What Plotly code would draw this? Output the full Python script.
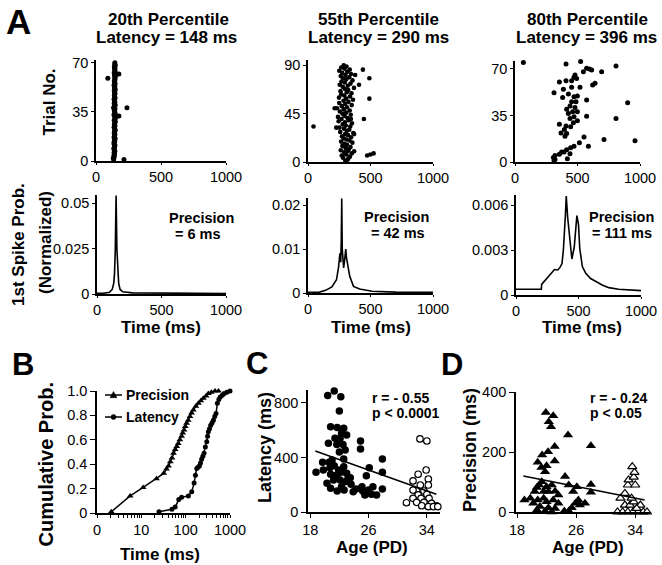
import plotly.graph_objects as go

W, H = 662, 565
FONT = "Liberation Sans, Arial, sans-serif"

# ---------------- DATA ----------------
# Panel A rasters: (trial number, first-spike latency in ms)
R1_TRIAL = [1, 2, 3, 4, 5, 6, 7, 8, 9, 10, 11, 12, 13, 14, 15, 16, 17, 18, 19, 20,
            21, 22, 23, 24, 25, 26, 27, 28, 29, 30, 31, 32, 33, 34, 35, 36, 37, 38, 39, 40,
            41, 42, 43, 44, 45, 46, 47, 48, 49, 50, 51, 52, 53, 54, 55, 56, 57, 58, 59, 60,
            61, 62, 63, 64, 65, 66, 67, 68, 69, 70, 59, 62, 38, 32, 1]
R1_MS = [136, 133, 140, 138, 142, 139, 145, 141, 137, 143, 146, 140, 138, 144, 141, 147, 139, 143, 145, 140,
         142, 148, 144, 139, 146, 141, 143, 149, 140, 145, 152, 142, 138, 147, 144, 141, 146, 135, 143, 148,
         140, 145, 142, 139, 147, 143, 141, 146, 144, 140, 148, 142, 145, 139, 147, 143, 141, 146, 144, 149,
         142, 145, 140, 147, 143, 146, 141, 148, 144, 145, 91, 176, 238, 176, 215]

R2_TRIAL = [1, 2, 3, 4, 5, 6, 7, 8, 9, 10, 11, 12, 13, 14, 15, 16, 17, 18, 19, 20,
            21, 22, 23, 24, 25, 26, 27, 28, 29, 30, 31, 32, 33, 34, 35, 36, 37, 38, 39, 40,
            41, 42, 43, 44, 45, 46, 47, 48, 49, 50, 51, 52, 53, 54, 55, 56, 57, 58, 59, 60,
            61, 62, 63, 64, 65, 66, 67, 68, 69, 70, 71, 72, 73, 74, 75, 76, 77, 78, 79, 80,
            81, 82, 83, 84, 85, 86, 87, 88, 89, 90,
            33, 86, 78, 59, 40, 72, 81, 6, 7, 8, 50, 32, 40, 26, 10]
R2_MS = [298, 315, 322, 280, 335, 270, 305, 350, 290, 318, 262, 328, 300, 340, 275, 312, 293, 355, 265, 332,
         308, 285, 345, 272, 320, 297, 362, 258, 310, 330, 288, 252, 338, 302, 278, 352, 295, 245, 326, 268,
         316, 240, 292, 342, 276, 306, 255, 334, 286, 232, 312, 270, 350, 298, 250, 324, 284, 360, 305, 248,
         336, 290, 266, 348, 310, 260, 322, 296, 368, 278, 318, 254, 340, 294, 268, 356, 306, 282, 330, 262,
         300, 344, 274, 314, 250, 334, 292, 266, 308, 286,
         44, 439, 491, 491, 447, 408, 377, 473, 499, 525, 213, 226, 343, 369, 369]

R3_MS = [67, 419, 408, 525, 573, 613, 595, 547, 693, 808, 480, 472, 493, 453, 408, 355, 640, 621, 520, 453,
         387, 312, 427, 381, 472, 499, 573, 453, 488, 901, 440, 480, 413, 461, 499, 427, 573, 472, 808, 440,
         499, 467, 355, 408, 445, 395, 368, 413, 400, 552, 712, 960, 515, 472, 587, 445, 413, 373, 355, 440,
         320, 307, 320, 312, 419, 392]
R3_TRIAL = [74.8, 76.9, 73.8, 75.6, 70.6, 69.3, 70, 68, 68, 72.3, 65.5, 63.8, 62.8, 61.2, 61.2, 60.2, 59.2, 58, 56.2, 56.2,
            54.7, 52.2, 51.2, 48.6, 49.1, 49.6, 46.6, 45.4, 45.4, 44.6, 42.1, 41.1, 39.6, 37.8, 37.8, 36.5, 34.5, 34, 32.8, 32.8,
            31, 29.5, 28.5, 27, 26.5, 24.4, 21.9, 21.4, 19.4, 18.9, 16.9, 15.9, 14.4, 11.8, 11.8, 10.8, 9.3, 7.6, 5.8, 6.3,
            4.8, 3.3, 1.8, 0.8, 2.5, 7.6]

# Panel A histograms: first-spike probability (normalized)
P1_MS = [0, 50, 97, 118, 130, 136, 142, 146, 148, 150, 154, 161, 168, 179, 200, 276, 500, 750, 1000]
P1_P = [0.0004, 0.0004, 0.0009, 0.0025, 0.006, 0.0115, 0.025, 0.045, 0.0542, 0.045, 0.025, 0.0115,
        0.006, 0.0025, 0.0012, 0.0006, 0.0004, 0.0003, 0.0003]
P2_MS = [0, 92, 141, 191, 228, 245, 255, 262, 266, 270, 274, 280, 285, 295, 302, 308, 319, 334, 364, 413,
         512, 700, 1000]
P2_P = [0.00015, 0.0002, 0.0006, 0.0014, 0.003, 0.006, 0.009, 0.007, 0.012, 0.0215, 0.01, 0.0065, 0.0057,
        0.008, 0.0100, 0.008, 0.0057, 0.0038, 0.0015, 0.0009, 0.0004, 0.0002, 0.00015]
P3_MS = [0, 203, 205, 242, 281, 308, 334, 352, 368, 379, 395, 402, 413, 431, 447, 466, 479, 487, 500, 510,
         531, 558, 597, 637, 689, 742, 821, 1000]
P3_P = [0.00038, 0.00038, 0.00071, 0.00104, 0.00144, 0.0017, 0.00167, 0.00184, 0.0021, 0.003, 0.0053,
        0.0066, 0.0052, 0.0037, 0.0024, 0.0032, 0.0049, 0.0053, 0.0047, 0.0031, 0.0019, 0.00144, 0.0011,
        0.0009, 0.00067, 0.00049, 0.00038, 0.00029]

# Panel B: cumulative distributions
B_PREC_MS = [2.1, 5.6, 11, 22, 32, 37, 41, 45, 49, 53, 58, 63, 68, 74, 81, 86, 92, 98, 105, 114, 125, 136,
             149, 170, 194, 220, 251, 290, 325, 380, 460, 550]
B_PREC_P = [0.01, 0.14, 0.21, 0.28, 0.325, 0.36, 0.385, 0.42, 0.45, 0.49, 0.52, 0.545, 0.57, 0.60, 0.63,
            0.655, 0.68, 0.71, 0.735, 0.76, 0.79, 0.82, 0.845, 0.875, 0.9, 0.92, 0.94, 0.96, 0.98, 0.99, 1.0, 1.0]
B_LAT_MS = [25, 49, 58, 70, 81, 115, 137, 155, 166, 178, 190, 204, 216, 229, 244, 260, 278, 299, 312, 325,
            345, 367, 395, 422, 452, 484, 519, 560, 602, 670, 740, 850, 1000]
B_LAT_P = [0.01, 0.03, 0.05, 0.11, 0.13, 0.14, 0.175, 0.245, 0.31, 0.365, 0.375, 0.385, 0.41, 0.44, 0.465,
           0.49, 0.54, 0.585, 0.63, 0.665, 0.69, 0.72, 0.74, 0.76, 0.79, 0.815, 0.9, 0.93, 0.95, 0.965, 0.98,
           0.99, 1.0]

# Panel C: latency vs age
C_FILL_AGE = [20.4, 21.3, 22.2, 22.0, 20.8, 21.7, 22.6, 22.3, 21.4, 23.0, 20.5, 21.65, 22.5, 22.1, 24.9,
              24.9, 22.6, 20.6, 19.7, 18.8, 19.8, 20.7, 21.3, 21.9, 22.6, 20.8, 21.65, 22.2, 23.0, 23.5,
              21.2, 22.1, 22.9, 20.3, 26.1, 27.9, 27.9, 25.7, 20.8, 21.7, 22.65, 23.6, 24.3, 25.1, 25.2,
              25.75, 26.6, 26.4, 27.9, 22.3, 23.9, 25.5, 26.0, 27.1, 22.8, 21.0, 22.0, 23.2]
C_FILL_LAT = [854, 888, 846, 741, 626, 619, 614, 578, 541, 565, 504, 496, 496, 541, 521,
              462, 389, 365, 365, 291, 308, 325, 340, 308, 332, 277, 272, 291, 284, 252,
              235, 235, 223, 210, 325, 389, 291, 266, 174, 154, 161, 203, 169, 186, 154,
              137, 186, 130, 169, 186, 149, 125, 161, 125, 455, 382, 440, 250]
C_OPEN_AGE = [33.05, 34.0, 33.9, 32.8, 34.2, 32.1, 33.1, 34.2, 32.6, 33.6, 32.8, 34.0, 32.1, 33.2, 34.3,
              32.6, 33.6, 34.65, 35.3, 32.1, 33.3, 34.2, 31.2, 34.9, 35.5]
C_OPEN_LAT = [536, 521, 308, 277, 242, 228, 198, 198, 154, 154, 125, 130, 100, 100, 100,
              71, 71, 64, 46, 161, 46, 39, 68, 39, 39]
C_FIT_AGE = [18.7, 35.3]
C_FIT_LAT = [448, 130]

# Panel D: precision vs age
D_FILL_AGE = [21.9, 22.9, 22.3, 22.6, 24.9, 28.0, 23.1, 22.2, 21.4, 23.1, 20.8, 22.0, 21.3, 21.8, 24.5,
              21.35, 22.0, 22.7, 21.0, 20.4, 21.6, 22.25, 23.15, 25.0, 26.1, 25.6, 28.0, 28.0, 19.0, 19.8,
              20.2, 20.8, 22.0, 22.9, 23.6, 21.1, 22.25, 23.15, 20.7, 24.4, 25.0, 25.4, 25.9, 26.3, 26.5,
              27.2, 21.8, 22.7, 21.6, 23.6, 20.67]
D_FILL_PREC = [332, 321, 301, 284, 257, 221, 218, 201, 190, 170, 166, 154, 148, 134, 118,
               101, 84, 90, 90, 68, 68, 68, 69, 90, 84, 68, 92, 66, 40, 46,
               29, 40, 34, 40, 29, 18, 14, 12, 7, 3, 3, 14, 29, 40, 23,
               29, 3, 0, 46, 57, 82]
D_OPEN_AGE = [31.6, 32.3, 33.0, 33.7, 34.4, 35.1, 35.6, 32.0, 32.6, 33.3, 34.7, 33.8, 32.6, 33.0, 33.1,
              33.8, 33.9, 33.6, 34.0, 33.5, 34.2]
D_OPEN_PREC = [0, 0, 0, 0, 0, 0, 0, 46, 23, 23, 23, 34, 62, 90, 107,
               116, 132, 151, 90, 46, 12]
D_FIT_AGE = [18.86, 35.27]
D_FIT_PREC = [120, 40]

# Tick labels
RASTER_X_TICKS = [0, 500, 1000]
B_X_TICKS = [1, 10, 100, 1000]
B_X_TEXT = ["0", "10", "100", "1000"]
B_Y_TICKS = [0, 0.2, 0.4, 0.6, 0.8, 1.0]
B_Y_TEXT = ["0", "0.2", "0.4", "0.6", "0.8", "1.0"]
AGE_TICKS = [18, 26, 34]

# ---------------- FIGURE ----------------
def dx(a, b):
    return [a / W, b / W]


def dy(bottom, top):
    return [1 - bottom / H, 1 - top / H]


def px(x):
    return x / W


def py(y):
    return 1 - y / H


fig = go.Figure()


def aname(n, axis):
    return axis if n == 1 else f"{axis}{n}"


def add(n, x, y, **kw):
    fig.add_trace(go.Scatter(x=x, y=y, xaxis=aname(n, "x"), yaxis=aname(n, "y"),
                             showlegend=False, cliponaxis=False, hoverinfo="skip", **kw))


def axis(n, other, domain, rng, tickvals, ticktext=None, **kw):
    d = dict(domain=domain, range=rng, tickvals=tickvals, showline=True, linecolor="black",
             linewidth=1.6, ticks="outside", ticklen=3, tickwidth=1.4, tickcolor="black",
             showgrid=False, zeroline=False, anchor=aname(n, other), fixedrange=True,
             automargin=False,
             tickfont=dict(family=FONT, size=14.5, color="black"))
    if ticktext is not None:
        d["ticktext"] = ticktext
    d.update(kw)
    return d


layout = {}


def set_axes(n, xd, yd):
    layout[aname(n, "xaxis")] = xd
    layout[aname(n, "yaxis")] = yd


# Rasters
set_axes(1, axis(1, "y", dx(96, 226), [0, 1000], RASTER_X_TICKS, ticklen=2),
         axis(1, "x", dy(161, 60), [0, 72], [0, 35, 70]))
set_axes(2, axis(2, "y", dx(308, 433), [0, 1000], RASTER_X_TICKS, ticklen=2),
         axis(2, "x", dy(162, 60), [0, 95], [0, 45, 90]))
set_axes(3, axis(3, "y", dx(515, 640), [0, 1000], RASTER_X_TICKS, ticklen=2),
         axis(3, "x", dy(162, 61), [0, 76], [0, 35, 70]))
# Histograms
set_axes(4, axis(4, "y", dx(97, 226), [0, 1000], RASTER_X_TICKS, ticklen=2),
         axis(4, "x", dy(294, 195), [0, 0.0545], [0, 0.025, 0.05], ["0", "0.025", "0.05"]))
set_axes(5, axis(5, "y", dx(308, 433), [0, 1000], RASTER_X_TICKS, ticklen=2),
         axis(5, "x", dy(293, 198), [0, 0.0216], [0, 0.01, 0.02], ["0", "0.01", "0.02"]))
set_axes(6, axis(6, "y", dx(516, 641), [0, 1000], RASTER_X_TICKS, ticklen=2),
         axis(6, "x", dy(295, 195), [0, 0.00667], [0, 0.003, 0.006], ["0", "0.003", "0.006"]))
# B
minor_vals = [2, 3, 4, 5, 6, 7, 8, 9, 20, 30, 40, 50, 60, 70, 80, 90, 200, 300, 400, 500, 600, 700, 800, 900]
set_axes(7, axis(7, "y", dx(97, 230), [0, 3], B_X_TICKS, B_X_TEXT, type="log",
                 minor=dict(tickvals=minor_vals, ticks="outside", ticklen=3, tickwidth=1, tickcolor="black")),
         axis(7, "x", dy(513, 391), [0, 1], B_Y_TICKS, B_Y_TEXT, ticklen=5))
# C
set_axes(8, axis(8, "y", dx(308, 440), [17.7, 35.8], AGE_TICKS, ticklen=4),
         axis(8, "x", dy(512, 390), [0, 895], [0, 400, 800], ticklen=5))
# D
set_axes(9, axis(9, "y", dx(516, 650), [17.86, 36.0], AGE_TICKS, ticklen=4),
         axis(9, "x", dy(512, 392), [0, 400], [0, 200, 400], ticklen=5))

# Traces
add(1, R1_MS, R1_TRIAL, mode="markers", marker=dict(color="black", size=5))
add(2, R2_MS, R2_TRIAL, mode="markers", marker=dict(color="black", size=4.6))
add(3, R3_MS, R3_TRIAL, mode="markers", marker=dict(color="black", size=5))

hline = dict(color="black", width=1.6)
add(4, P1_MS, P1_P, mode="lines", line=hline)
add(5, P2_MS, P2_P, mode="lines", line=hline)
add(6, P3_MS, P3_P, mode="lines", line=hline)

add(7, B_PREC_MS, B_PREC_P, mode="lines+markers", line=dict(color="black", width=1.5),
    marker=dict(symbol="triangle-up", size=6, color="black"))
add(7, B_LAT_MS, B_LAT_P, mode="lines+markers", line=dict(color="black", width=1.5),
    marker=dict(symbol="circle", size=5, color="black"))

add(8, C_FILL_AGE, C_FILL_LAT, mode="markers", marker=dict(color="black", size=7.5))
add(8, C_OPEN_AGE, C_OPEN_LAT, mode="markers",
    marker=dict(color="white", size=6.5, line=dict(color="black", width=1.2)))
add(8, C_FIT_AGE, C_FIT_LAT, mode="lines", line=dict(color="black", width=1.6))

add(9, D_FILL_AGE, D_FILL_PREC, mode="markers", marker=dict(symbol="triangle-up", color="black", size=9))
add(9, D_OPEN_AGE, D_OPEN_PREC, mode="markers",
    marker=dict(symbol="triangle-up", color="white", size=8, line=dict(color="black", width=1.2)))
add(9, D_FIT_AGE, D_FIT_PREC, mode="lines", line=dict(color="black", width=1.6))

# Annotations
ann = []


def text(s, x, y, size, bold=True, angle=0, xanchor="center"):
    ann.append(dict(text=f"<b>{s}</b>" if bold else s, x=px(x), y=py(y), xref="paper", yref="paper",
                    showarrow=False, xanchor=xanchor, yanchor="middle", textangle=angle,
                    font=dict(family=FONT, size=size, color="black")))


# panel letters
text("A", 18.5, 21, 35)
text("B", 22.5, 364, 31)
text("C", 257, 363, 31)
text("D", 452, 364, 31)
# titles
text("20th Percentile", 168, 19.5, 17)
text("Latency = 148 ms", 166.5, 37, 17)
text("55th Percentile", 379, 19.5, 17)
text("Latency = 290 ms", 378.5, 37, 17)
text("80th Percentile", 587.5, 19.5, 17)
text("Latency = 396 ms", 586.5, 37, 17)
# axis titles
text("Trial No.", 49.5, 102, 17, angle=-90)
text("1st Spike Prob.", 18, 245, 17, angle=-90)
text("(Normalized)", 45, 243, 17, angle=-90)
text("Time (ms)", 161, 327, 17)
text("Time (ms)", 371, 327, 17)
text("Time (ms)", 582, 327, 17)
text("Cumulative Prob.", 45.5, 465, 20, angle=-90)
text("Time (ms)", 160, 554, 17)
text("Latency (ms)", 265, 448, 18, angle=-90)
text("Age (PD)", 371.5, 547, 17)
text("Precision (ms)", 470, 450, 18, angle=-90)
text("Age (PD)", 587.5, 547, 17)
# in-panel texts
text("Precision", 201, 218, 14.5)
text("= 6 ms", 198, 234, 14.5)
text("Precision", 397, 217, 14.5)
text("= 42 ms", 397.5, 233, 14.5)
text("Precision", 621, 217, 14.5)
text("= 111 ms", 622, 233, 14.5)
text("r = - 0.55", 370, 398, 14, xanchor="left")
text("p < 0.0001", 370, 413, 14, xanchor="left")
text("r = - 0.24", 588, 398, 14, xanchor="left")
text("p < 0.05", 588, 413, 14, xanchor="left")
# legend labels for panel B
text("Precision", 124, 395, 14, xanchor="left")
text("Latency", 124, 417, 14, xanchor="left")

# legend glyphs for panel B (paper coordinates)
shapes = []
for yy in (395, 417):
    shapes.append(dict(type="line", xref="paper", yref="paper", x0=px(105), x1=px(122), y0=py(yy), y1=py(yy),
                       line=dict(color="black", width=1.5)))
tri = f"M {px(113.5)},{py(391.5)} L {px(110)},{py(397.7)} L {px(117)},{py(397.7)} Z"
shapes.append(dict(type="path", xref="paper", yref="paper", path=tri, fillcolor="black",
                   line=dict(color="black", width=0.5)))
shapes.append(dict(type="circle", xref="paper", yref="paper", x0=px(111), x1=px(116), y0=py(419.5), y1=py(414.5),
                   fillcolor="black", line=dict(color="black", width=0.5)))

fig.update_layout(
    template="none",
    width=W, height=H, margin=dict(l=0, r=0, t=0, b=0, pad=0, autoexpand=False),
    paper_bgcolor="white", plot_bgcolor="white",
    showlegend=False, annotations=ann, shapes=shapes,
    font=dict(family=FONT, color="black"),
    **layout,
)

fig.write_html("out.html", config={"displayModeBar": False},
               post_script="document.body.style.margin='0px';")
